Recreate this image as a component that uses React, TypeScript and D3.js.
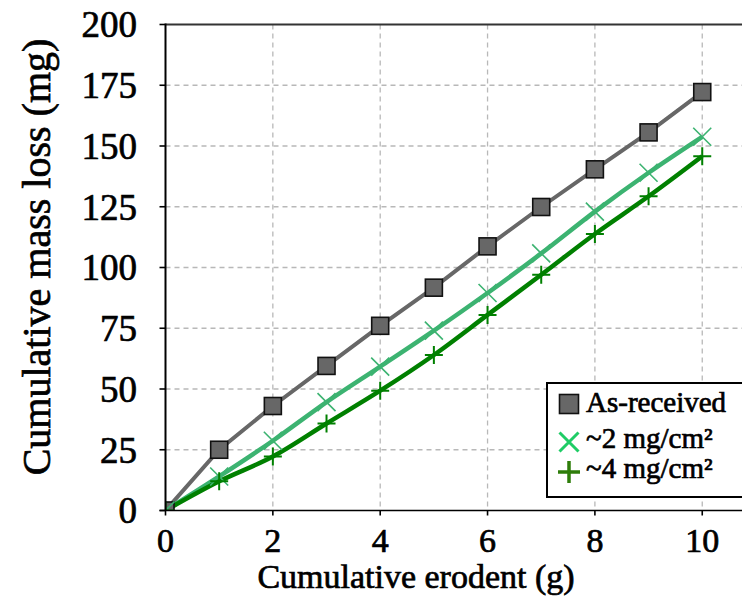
import React from 'react'
import * as d3 from 'd3'

const erodent = [0, 1, 2, 3, 4, 5, 6, 7, 8, 9, 10]
const asReceived = [0, 25, 43, 59.5, 76, 91.7, 108.7, 124.9, 140.4, 155.6, 172.2]
const coat2 = [0, 14, 28.7, 44.6, 59.2, 74, 89.5, 105.8, 123, 139, 153.8]
const coat4 = [0, 12, 22.2, 35.8, 49.3, 64, 80.5, 97, 113.8, 129.3, 145.8]
const xTicks = [0, 2, 4, 6, 8, 10]
const yTicks = [0, 25, 50, 75, 100, 125, 150, 175, 200]
const legendLabels = ['As-received', '~2 mg/cm\u00B2', '~4 mg/cm\u00B2']

const width = 742
const height = 610
const left = 165.5
const right = 742.5
const top = 24.5
const bottom = 510.5
const font = '"Liberation Serif", serif'

const grey = '#676767'
const lightGreen = '#3cb371'
const darkGreen = '#008000'

const x = d3.scaleLinear().domain([0, 10.75]).range([left, right])
const y = d3.scaleLinear().domain([0, 200]).range([bottom, top])

const pts = (vals: number[]) => vals.map((v, i) => [erodent[i], v] as [number, number])

const straight = d3.line().x(d => x(d[0])).y(d => y(d[1]))
const smooth = d3.line().x(d => x(d[0])).y(d => y(d[1])).curve(d3.curveMonotoneX)

// faux medium weight, the source font is heavier than Liberation Serif
const heavy = { stroke: '#000', strokeWidth: 0.7, paintOrder: 'stroke' } as any

const Square = ({ cx, cy, s = 17 }: any) => (
  <rect x={cx - s / 2} y={cy - s / 2} width={s} height={s} fill={grey} stroke='#111' strokeWidth={1.6} />
)
const Cross = ({ cx, cy, s = 9, color, w = 1.6 }: any) => (
  <path d={`M${cx - s},${cy - s}L${cx + s},${cy + s}M${cx - s},${cy + s}L${cx + s},${cy - s}`} stroke={color} strokeWidth={w} fill='none' />
)
const Plus = ({ cx, cy, s = 9, color, w = 2 }: any) => (
  <path d={`M${cx - s},${cy}L${cx + s},${cy}M${cx},${cy - s}L${cx},${cy + s}`} stroke={color} strokeWidth={w} fill='none' />
)

export default function App() {
  return (
    <svg width={width} height={height} style={{ display: 'block', position: 'absolute', left: 0, top: 0 }} fontFamily={font}>
      <defs>
        <clipPath id='plot'>
          <rect x={left} y={top} width={right - left} height={bottom - top} />
        </clipPath>
      </defs>
      <rect width={width} height={height} fill='#fff' />
      {/* grid */}
      {yTicks.filter(t => t > 0 && t < 200).map(t => (
        <line key={'gy' + t} x1={left} x2={right} y1={y(t)} y2={y(t)} stroke='#b8b8b8' strokeWidth={1.3} strokeDasharray='5,4' />
      ))}
      {xTicks.filter(t => t > 0).map(t => (
        <line key={'gx' + t} x1={x(t)} x2={x(t)} y1={top} y2={bottom} stroke='#b8b8b8' strokeWidth={1.3} strokeDasharray='5,4' />
      ))}
      <line x1={left} x2={right} y1={top} y2={top} stroke='#333' strokeWidth={2} />

      {/* series */}
      <g clipPath='url(#plot)'>
        <path d={straight(pts(asReceived)) || ''} fill='none' stroke={grey} strokeWidth={4} />
        <path d={smooth(pts(coat2)) || ''} fill='none' stroke={lightGreen} strokeWidth={4.5} />
        <path d={smooth(pts(coat4)) || ''} fill='none' stroke={darkGreen} strokeWidth={4.5} />
        {pts(asReceived).map((d, i) => <Square key={'s' + i} cx={x(d[0])} cy={y(d[1])} />)}
        {pts(coat2).map((d, i) => <Cross key={'c' + i} cx={x(d[0])} cy={y(d[1])} color={lightGreen} />)}
        {pts(coat4).map((d, i) => <Plus key={'p' + i} cx={x(d[0])} cy={y(d[1])} color={darkGreen} />)}
      </g>

      {/* axes */}
      <line x1={left} x2={left} y1={top - 1} y2={bottom} stroke='#000' strokeWidth={2} />
      <line x1={left - 6} x2={right} y1={bottom} y2={bottom} stroke='#000' strokeWidth={1.6} />
      {yTicks.map(t => (
        <g key={'yt' + t}>
          <line x1={left - 6} x2={left} y1={y(t)} y2={y(t)} stroke='#000' strokeWidth={1.6} />
          <text x={137} y={y(t)} dy='0.35em' textAnchor='end' fontSize={37} {...heavy}>{t}</text>
        </g>
      ))}
      {xTicks.map(t => (
        <g key={'xt' + t}>
          <line x1={x(t)} x2={x(t)} y1={bottom} y2={bottom + 5} stroke='#000' strokeWidth={1.6} />
          <text x={x(t)} y={552} textAnchor='middle' fontSize={34} {...heavy}>{t}</text>
        </g>
      ))}
      <text x={416} y={588} textAnchor='middle' fontSize={34} {...heavy}>Cumulative erodent (g)</text>
      <text transform='translate(50,257) rotate(-90)' textAnchor='middle' fontSize={40} {...heavy}>Cumulative mass loss (mg)</text>

      {/* legend */}
      <rect x={547} y={383} width={196} height={114} fill='#fff' stroke='#000' strokeWidth={2} />
      <Square cx={569} cy={404} s={19} />
      <Cross cx={569} cy={442} s={9.5} color='#1fcc66' w={3} />
      <Plus cx={569} cy={472} s={11} color='#2e7d0a' w={3.5} />
      <text x={586} y={412} fontSize={29} {...heavy}>{legendLabels[0]}</text>
      <text x={586} y={448} fontSize={29} {...heavy}>{legendLabels[1]}</text>
      <text x={586} y={478} fontSize={29} {...heavy}>{legendLabels[2]}</text>
    </svg>
  )
}
